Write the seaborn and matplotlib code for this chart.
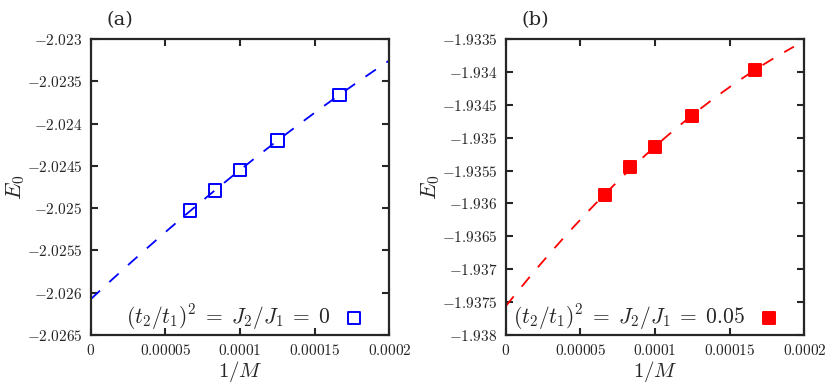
import numpy as np
import pandas as pd
import matplotlib
matplotlib.use("Agg")
import matplotlib.pyplot as plt
from matplotlib.ticker import FixedLocator, FuncFormatter
import seaborn as sns

sns.set_style("ticks")
plt.rcParams["font.family"] = ["DejaVu Serif"]
plt.rcParams["mathtext.fontset"] = "cm"

# data
inv_M = [1 / 15000, 1 / 12000, 1 / 10000, 1 / 8000, 1 / 6000]
E0_a = [-2.02503, -2.02479, -2.02455, -2.02420, -2.02366]
E0_b = [-1.93587, -1.93545, -1.93514, -1.93467, -1.93397]

label_a = r"$(t_2/t_1)^2\; =\; J_2/J_1\; =\; 0$"
label_b = r"$(t_2/t_1)^2\; =\; J_2/J_1\; =\; 0.05$"

xticks = [0, 0.00005, 0.0001, 0.00015, 0.0002]
yticks_a = [-2.0265, -2.026, -2.0255, -2.025, -2.0245, -2.024, -2.0235, -2.023]
yticks_b = [-1.938, -1.9375, -1.937, -1.9365, -1.936, -1.9355, -1.935,
            -1.9345, -1.934, -1.9335]


def fmt(v, pos=None):
    s = np.format_float_positional(round(v, 6), trim="-")
    return "$" + s + "$"


fig = plt.figure(figsize=(8.3, 3.85), dpi=100)
ax_a = fig.add_axes([0.1093, 0.1299, 0.3598, 0.7688])
ax_b = fig.add_axes([0.6093, 0.1299, 0.3598, 0.7688])

panels = [
    (ax_a, E0_a, "blue", "none", label_a, yticks_a, 0.0002, "(a)"),
    (ax_b, E0_b, "red", "red", label_b, yticks_b, 0.000193, "(b)"),
]

for ax, E0, col, face, lab, yt, xmax, tag in panels:
    df = pd.DataFrame({"x": inv_M, "E": E0})
    # quadratic extrapolation fit through the data
    coef = np.polyfit(df["x"], df["E"], 2)
    xf = np.linspace(0, xmax, 200)
    fit = pd.DataFrame({"x": xf, "E": np.polyval(coef, xf)})
    sns.lineplot(data=fit, x="x", y="E", ax=ax, color=col, lw=1.3,
                 dashes=False, linestyle=(0, (7, 7)), legend=False)
    sns.scatterplot(data=df, x="x", y="E", ax=ax, marker="s", s=80,
                    facecolor=face, edgecolor=col, linewidth=1.4,
                    label=lab, zorder=3)
    ax.set_xlim(0, 0.0002)
    ax.set_ylim(yt[0], yt[-1])
    ax.xaxis.set_major_locator(FixedLocator(xticks))
    ax.yaxis.set_major_locator(FixedLocator(yt))
    ax.xaxis.set_major_formatter(FuncFormatter(fmt))
    ax.yaxis.set_major_formatter(FuncFormatter(fmt))
    ax.tick_params(direction="in", top=True, right=True, length=5, width=1.5,
                   labelsize=11, pad=6)
    for sp in ax.spines.values():
        sp.set_linewidth(1.6)
    ax.set_xlabel(r"$1/M$", fontsize=15)
    ax.xaxis.set_label_coords(0.5, -0.08)
    ax.set_ylabel(r"$E_0$", fontsize=16)
    ax.yaxis.set_label_coords(-0.215, 0.5)
    ax.text(0.098, 1.064, tag, transform=ax.transAxes, ha="center",
            va="center", fontsize=14, family="serif")
    ax.legend(loc="lower right", bbox_to_anchor=(0.95, -0.005),
              frameon=False, markerfirst=False, fontsize=15.5,
              handletextpad=0.35, borderaxespad=0, borderpad=0.2,
              handlelength=1.5)

fig.savefig("out.png", dpi=100)
